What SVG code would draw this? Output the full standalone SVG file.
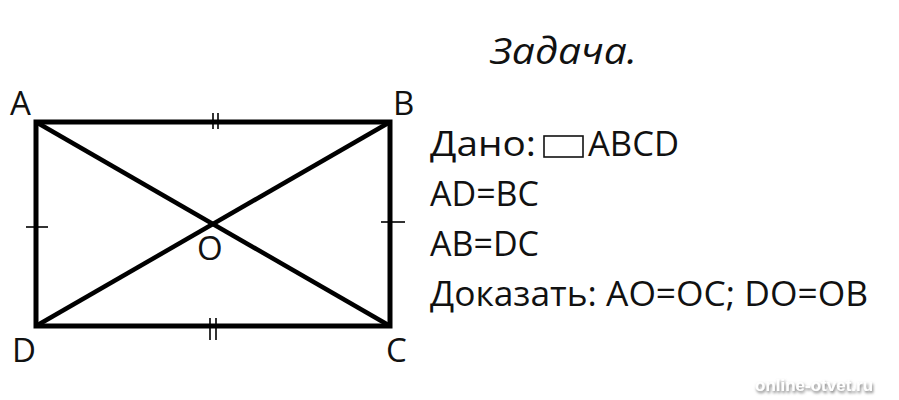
<svg xmlns="http://www.w3.org/2000/svg" width="899" height="400" viewBox="0 0 899 400">
<style>
.lbl{font-family:"Open Sans","Liberation Sans",sans-serif;font-size:33px;fill:#111}
.txt{font-family:"Open Sans","Liberation Sans",sans-serif;font-size:34px;fill:#111}
.edge{stroke:#000;stroke-width:5;fill:none;stroke-linecap:square}
.diag{stroke:#000;stroke-width:4.5;fill:none}
.tick{stroke:#000;stroke-width:1.6;fill:none}
</style>
<defs>
<filter id="sh" x="-10%" y="-50%" width="120%" height="200%">
<feGaussianBlur in="SourceAlpha" stdDeviation="1.5" result="b"/>
<feOffset in="b" dx="1" dy="2" result="o"/>
<feFlood flood-color="#777"/>
<feComposite in2="o" operator="in" result="s"/>
<feMerge><feMergeNode in="s"/><feMergeNode in="SourceGraphic"/></feMerge>
</filter>
</defs>
<rect width="899" height="400" fill="#fff"/>
<g id="connectors">
<path class="edge" d="M36 122 H390 V326 H36 Z"/>
<line class="diag" x1="36" y1="122" x2="390" y2="326"/>
<line class="diag" x1="36" y1="326" x2="390" y2="122"/>
<line class="tick" x1="213" y1="113" x2="213" y2="129"/>
<line class="tick" x1="218" y1="113" x2="218" y2="129"/>
<line class="tick" x1="210" y1="318" x2="210" y2="340"/>
<line class="tick" x1="216" y1="318" x2="216" y2="340"/>
<line class="tick" x1="26" y1="227" x2="48" y2="227"/>
<line class="tick" x1="381" y1="222" x2="405" y2="222"/>
</g>
<g id="A"><text class="lbl" x="10" y="115">A</text></g>
<g id="B"><text class="lbl" x="393" y="115">B</text></g>
<g id="C"><text class="lbl" x="386" y="362">C</text></g>
<g id="D"><text class="lbl" x="12" y="362">D</text></g>
<g id="O"><text class="lbl" x="197" y="260">O</text></g>
<g id="title"><text x="490" y="64" style="font-family:'Open Sans','Liberation Sans',sans-serif;font-size:37px;font-style:italic;fill:#111" textLength="147" lengthAdjust="spacingAndGlyphs">Задача.</text></g>
<g id="given">
<text class="txt" x="430" y="156" textLength="106" lengthAdjust="spacingAndGlyphs">Дано:</text>
<rect x="544" y="136" width="39" height="21" fill="none" stroke="#111" stroke-width="1.6"/>
<text class="txt" x="588" y="156" textLength="91" lengthAdjust="spacingAndGlyphs">ABCD</text>
<text class="txt" x="430" y="206" textLength="109" lengthAdjust="spacingAndGlyphs">AD=BC</text>
<text class="txt" x="430" y="256" textLength="109" lengthAdjust="spacingAndGlyphs">AB=DC</text>
<text class="txt" x="430" y="306" textLength="438" lengthAdjust="spacingAndGlyphs">Доказать: AO=OC; DO=OB</text>
</g>
<g id="watermark"><text x="755" y="391" fill="#fff" filter="url(#sh)" style="font-family:'Liberation Sans',sans-serif;font-size:17px;font-weight:bold">online-otvet.ru</text></g>
</svg>
